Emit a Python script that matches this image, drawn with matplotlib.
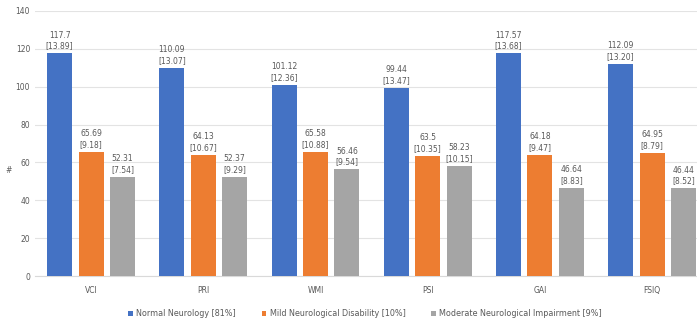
import numpy as np
import matplotlib.pyplot as plt

# index scores per group, with SD in brackets
categories = ['VCI', 'PRI', 'WMI', 'PSI', 'GAI', 'FSIQ']
series_names = ['Normal Neurology [81%]', 'Mild Neurological Disability [10%]',
                'Moderate Neurological Impairment [9%]']
normal = [117.7, 110.09, 101.12, 99.44, 117.57, 112.09]
normal_sd = ['13.89', '13.07', '12.36', '13.47', '13.68', '13.20']
mild = [65.69, 64.13, 65.58, 63.5, 64.18, 64.95]
mild_sd = ['9.18', '10.67', '10.88', '10.35', '9.47', '8.79']
moderate = [52.31, 52.37, 56.46, 58.23, 46.64, 46.44]
moderate_sd = ['7.54', '9.29', '9.54', '10.15', '8.83', '8.52']
value_text = [['117.7', '110.09', '101.12', '99.44', '117.57', '112.09'],
              ['65.69', '64.13', '65.58', '63.5', '64.18', '64.95'],
              ['52.31', '52.37', '56.46', '58.23', '46.64', '46.44']]

colors = ['#4472C4', '#ED7D31', '#A5A5A5']
txt = '#595959'

fig = plt.figure(figsize=(6.97, 3.23), dpi=100)
ax = fig.add_axes([35/697, 47/323, 662/697, 265/323])

x = np.arange(len(categories))
w = 0.223
step = 0.28
all_vals = [normal, mild, moderate]
all_sd = [normal_sd, mild_sd, moderate_sd]

for i in range(3):
    pos = x + (i - 1)*step
    ax.bar(pos, all_vals[i], width=w, color=colors[i], label=series_names[i], zorder=3)
    for j in range(len(categories)):
        ax.text(pos[j], all_vals[i][j] + 1.5, value_text[i][j] + '\n[' + all_sd[i][j] + ']',
                ha='center', va='bottom', fontsize=5.5, color=txt, linespacing=1.25)

ax.set_xlim(-0.5, -0.5 + 662/112.2)
ax.set_ylim(0, 140)
ax.set_yticks(range(0, 141, 20))
ax.set_xticks(x)
ax.set_xticklabels(categories)
ax.tick_params(axis='both', length=0, labelsize=5.5, colors=txt)
ax.tick_params(axis='x', pad=7)
ax.grid(axis='y', color='#E3E3E3', linewidth=0.8, zorder=0)
for s in ['top', 'right', 'left']:
    ax.spines[s].set_visible(False)
ax.spines['bottom'].set_color('#D9D9D9')
ax.set_ylabel('#', fontsize=5.5, color=txt, rotation=0, labelpad=8)
ax.yaxis.set_label_coords(-0.04, 0.38)

ax.legend(loc='center', bbox_to_anchor=(365/697, 9/323), bbox_transform=fig.transFigure,
          ncol=3, frameon=False, fontsize=5.8, handlelength=0.6, handleheight=0.6,
          columnspacing=3.2, handletextpad=0.4, labelcolor=txt)

plt.savefig('out.png', dpi=100)
